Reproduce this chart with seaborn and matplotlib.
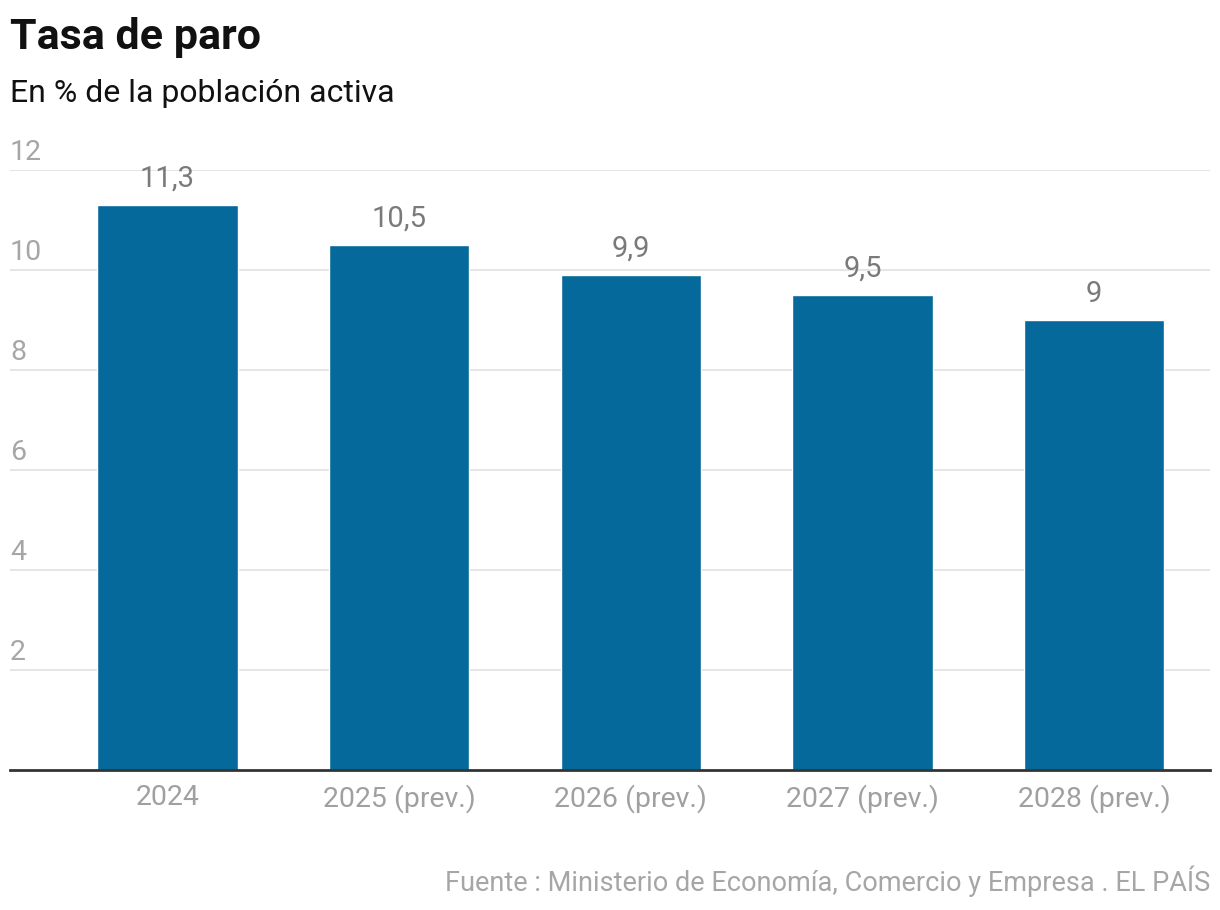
import matplotlib
matplotlib.use("Agg")
import matplotlib.pyplot as plt
import seaborn as sns
import pandas as pd

# data
years = ["2024", "2025 (prev.)", "2026 (prev.)", "2027 (prev.)", "2028 (prev.)"]
tasa = [11.3, 10.5, 9.9, 9.5, 9.0]
y_ticks = [2, 4, 6, 8, 10, 12]

df = pd.DataFrame({"year": years, "tasa": tasa})

sns.set_theme(style="white")
plt.rcParams["font.family"] = ["Roboto", "DejaVu Sans"]

fig = plt.figure(figsize=(12.2, 9.1), dpi=100)
ax = fig.add_axes([10 / 1220, 140 / 910, 1200 / 1220, 600 / 910])

sns.barplot(data=df, x="year", y="tasa", color="#06699b", width=0.605,
            saturation=1, ax=ax)

ax.set_ylim(0, 12)
ax.set_xlim(-0.68, 4.5)
ax.set_yticks(y_ticks)
ax.yaxis.grid(True, color="#e3e3e3", linewidth=1.3)
ax.set_axisbelow(True)
ax.tick_params(axis="y", length=0, labelleft=False)
ax.tick_params(axis="x", length=0, labelsize=20.5, labelcolor="#a0a0a0", pad=10)
ax.set_xlabel("")
ax.set_ylabel("")
for s in ["top", "right", "left"]:
    ax.spines[s].set_visible(False)
ax.spines["bottom"].set_color("#333333")
ax.spines["bottom"].set_linewidth(2)

# y labels sit above the gridlines
for t in y_ticks:
    ax.annotate(str(t), xy=(0, t), xycoords=ax.get_yaxis_transform(),
                xytext=(0, 3), textcoords="offset points", ha="left",
                va="bottom", fontsize=20.5, color="#a6a6a6")

labels = [f"{v:g}".replace(".", ",") for v in tasa]
ax.bar_label(ax.containers[0], labels=labels, padding=9, fontsize=21,
             color="#7a7a7a")

fig.text(10 / 1220, 1 - 38 / 910, "Tasa de paro", fontsize=31,
         fontweight="bold", color="#111111", va="center", ha="left")
fig.text(10 / 1220, 1 - 93 / 910, "En % de la población activa",
         fontsize=23, color="#111111", va="center", ha="left")
fig.text(1210 / 1220, 1 - 881 / 910,
         "Fuente : Ministerio de Economía, Comercio y Empresa . EL PAÍS",
         fontsize=19.5, color="#a6a6a6", va="center", ha="right")

fig.savefig("out.png", dpi=100)
